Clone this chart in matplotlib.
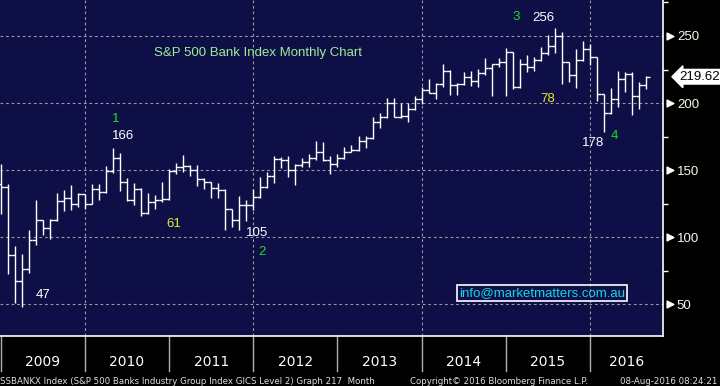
import matplotlib
matplotlib.use('Agg')
import matplotlib.pyplot as plt
import matplotlib.transforms as mtransforms

# monthly OHLC, S&P 500 Bank Index, Dec 2008 .. Aug 2016 (bars drawn at month end)
opens = [140.0, 137.5, 87.1, 67.7, 76.1, 97.8, 112.7, 107.2, 112.7, 127.1, 128.9, 124.4,
         131.9, 125.1, 136.1, 133.6, 149.0, 158.7, 141.3, 128.0, 136.3, 118.2, 125.9, 128.0,
         128.6, 149.5, 152.0, 153.0, 150.0, 143.3, 140.8, 137.0, 135.0, 120.9, 113.2, 123.9,
         123.9, 130.1, 137.5, 146.0, 158.0, 157.5, 150.0, 154.0, 156.2, 158.7, 163.7, 157.5,
         154.5, 158.7, 163.7, 164.9, 171.9, 173.7, 185.6, 189.3, 199.8, 189.8, 190.3, 195.3,
         202.8, 209.7, 207.7, 214.2, 224.1, 213.4, 214.2, 219.6, 216.7, 222.6, 225.9, 228.8,
         230.8, 237.8, 211.8, 229.1, 226.9, 231.9, 237.1, 242.5, 250.0, 230.4, 220.9, 232.1,
         240.0, 234.1, 206.5, 192.3, 202.8, 217.7, 221.4, 205.2, 213.4]
highs = [154.5, 139.6, 93.3, 87.8, 105.7, 127.6, 112.9, 113.7, 132.6, 135.1, 138.8, 132.6,
         132.5, 139.6, 139.6, 153.0, 166.4, 162.9, 143.8, 140.5, 137.0, 133.1, 131.3, 141.3,
         150.5, 155.0, 161.2, 153.5, 153.7, 143.8, 141.3, 140.5, 136.3, 121.4, 130.6, 127.6,
         136.3, 144.6, 148.8, 160.4, 159.9, 160.4, 154.5, 158.7, 161.9, 171.6, 171.1, 160.7,
         161.9, 166.9, 168.7, 175.4, 175.4, 189.3, 192.3, 203.5, 203.5, 200.2, 200.2, 205.2,
         211.7, 217.7, 214.7, 228.9, 224.6, 214.7, 223.4, 224.1, 225.1, 233.4, 229.3, 233.4,
         241.0, 238.0, 232.6, 235.8, 234.0, 242.0, 250.7, 256.2, 253.0, 230.8, 240.0, 246.3,
         243.8, 234.6, 206.9, 211.0, 223.9, 222.9, 222.9, 215.9, 219.9]
lows = [117.2, 72.9, 51.0, 48.0, 73.4, 94.3, 101.7, 98.8, 112.0, 119.2, 120.1, 122.6,
        121.4, 124.5, 127.6, 132.8, 148.0, 134.6, 127.0, 123.9, 116.2, 117.5, 121.4, 126.4,
        128.0, 147.5, 148.8, 145.5, 138.0, 136.3, 128.9, 129.6, 105.7, 107.7, 105.5, 112.2,
        120.6, 129.5, 137.0, 140.5, 151.3, 145.0, 139.3, 152.0, 152.5, 157.8, 157.0, 147.5,
        152.5, 158.0, 163.2, 164.5, 166.6, 173.0, 181.6, 189.0, 189.3, 188.6, 186.0, 195.0,
        199.3, 207.2, 202.8, 211.7, 206.0, 206.0, 213.5, 212.7, 211.7, 221.0, 205.2, 227.1,
        205.0, 210.2, 211.0, 223.0, 224.0, 231.0, 236.0, 237.0, 214.0, 215.9, 211.4, 231.5,
        228.4, 201.5, 178.6, 192.0, 197.2, 208.0, 191.0, 195.3, 210.4]
closes = [137.5, 87.1, 67.7, 76.1, 97.8, 112.7, 107.2, 112.7, 127.1, 128.9, 124.4, 131.9,
          125.1, 136.1, 133.6, 149.0, 158.7, 141.3, 128.0, 136.3, 118.2, 125.9, 128.0, 128.6,
          149.5, 152.0, 153.0, 150.0, 143.3, 140.8, 137.0, 135.0, 120.9, 113.2, 123.9, 123.9,
          130.1, 137.5, 146.0, 158.0, 157.5, 150.0, 154.0, 156.2, 158.7, 163.7, 157.5, 154.5,
          158.7, 163.7, 164.9, 171.9, 173.7, 185.6, 189.3, 199.8, 189.8, 190.3, 195.3, 202.8,
          209.7, 207.7, 214.2, 224.1, 213.4, 214.2, 219.6, 216.7, 222.6, 225.9, 228.8, 230.8,
          237.8, 211.8, 229.1, 226.9, 231.9, 237.1, 242.5, 250.0, 230.8, 220.9, 232.1, 240.0,
          234.1, 206.5, 192.3, 202.8, 217.7, 221.4, 205.2, 213.4, 219.62]

years = ['2009', '2010', '2011', '2012', '2013', '2014', '2015', '2016']
y_ticks = [50, 100, 150, 200, 250]
y_minor = [75, 125, 175, 225, 275]
last_price = 219.62

# (text, month index, value, colour)
notes = [('1', 16.4, 188.0, '#22dd22'), ('166', 17.4, 175.5, 'white'),
         ('61', 24.7, 110.0, '#e8e830'), ('47', 6.0, 57.0, 'white'),
         ('105', 36.5, 103.0, 'white'), ('2', 37.3, 89.0, '#22dd22'),
         ('3', 73.4, 264.0, '#22dd22'), ('256', 77.4, 263.5, 'white'),
         ('78', 78.0, 203.0, '#e8e830'), ('178', 84.5, 170.0, 'white'),
         ('4', 87.4, 175.5, '#22dd22')]

W, H = 720, 386
fig = plt.figure(figsize=(W / 100, H / 100), dpi=100, facecolor='black')
ax = fig.add_axes([0, 50 / H, 663 / W, 336 / H])
ax.set_facecolor('#0f0f47')

n = len(closes)
idx = list(range(n))
lw = 1.0
ax.vlines(idx, lows, highs, color='white', lw=lw)
ax.hlines(opens, [i - 0.5 for i in idx], idx, color='white', lw=lw)
ax.hlines(closes, idx, [i + 0.5 for i in idx], color='white', lw=lw)

ax.set_xlim(-0.1, 94.4)
ax.set_ylim(26.4, 276.8)

# grid
for v in y_ticks:
    ax.axhline(v, color='#9a9a9a', lw=0.8, ls=(0, (2.5, 2.5)), zorder=0)
for k in [12, 36, 60, 84]:
    ax.axvline(k, color='#9a9a9a', lw=0.8, ls=(0, (2.5, 2.5)), zorder=0)

for s in ['top', 'left']:
    ax.spines[s].set_visible(False)
ax.spines['right'].set_color('white')
ax.spines['bottom'].set_color('white')
ax.spines['right'].set_linewidth(1.2)
ax.spines['bottom'].set_linewidth(1.2)

ax.set_xticks([])
ax.yaxis.tick_right()
ax.set_yticks(y_ticks)
ax.set_yticklabels([str(v) for v in y_ticks])
ax.set_yticks(y_minor, minor=True)
ax.tick_params(axis='y', which='major', length=0, pad=10, labelsize=9.5,
               labelcolor='#fff4e6')
ax.tick_params(axis='y', which='minor', length=3.5, width=1, color='white')
for lab in ax.get_yticklabels():
    lab.set_family('Liberation Sans')

# pennant markers on major ticks
tr = mtransforms.blended_transform_factory(ax.transAxes, ax.transData)
ax.scatter([1.01] * len(y_ticks), y_ticks, marker='>', s=24, color='white',
           transform=tr, clip_on=False, zorder=5)

# last price tag
ax.text(1.025, last_price, '%.2f' % last_price, transform=tr, ha='left', va='center',
        fontsize=9.5, family='Liberation Sans', color='black',
        bbox=dict(boxstyle='larrow,pad=0.1', fc='white', ec='white'))

# title and notes
ax.text(21.9, 237.3, 'S&P 500 Bank Index Monthly Chart', color='#98f098',
        fontsize=9.5, family='Liberation Sans', ha='left', va='center')
for t, k, v, c in notes:
    ax.text(k, v, t, color=c, fontsize=9.5, family='Liberation Sans',
            ha='center', va='center')

ax.text(77.1, 58.4, 'info@marketmatters.com.au', color='#10d8e8', fontsize=9.5,
        family='Liberation Sans', ha='center', va='center',
        bbox=dict(boxstyle='square,pad=0.15', fc='none', ec='white', lw=1.2))

# year labels and separators in the black band
trx = mtransforms.blended_transform_factory(ax.transData, ax.transAxes)
for i, y in enumerate(years):
    left = 12 * i
    right = min(12 * (i + 1), 94.4)
    ax.text((left + right) / 2, -0.078, y, transform=trx, ha='center', va='center',
            color='white', fontsize=10, family='DejaVu Sans')
    ax.plot([left, left], [0, -0.105], transform=trx, color='#b0b0b0', lw=1,
            clip_on=False)

fig.text(0.0, 5 / H, 'SSBANKX Index (S&P 500 Banks Industry Group Index GICS Level 2) Graph 217  Month',
         color='#e0e0e0', fontsize=6.2, family='DejaVu Sans', ha='left', va='center')
fig.text(410 / W, 5 / H, 'Copyright\u00a9 2016 Bloomberg Finance L.P.',
         color='#e0e0e0', fontsize=6.2, family='DejaVu Sans', ha='left', va='center')
fig.text(717 / W, 5 / H, '08-Aug-2016 08:24:21',
         color='#e0e0e0', fontsize=6.2, family='DejaVu Sans', ha='right', va='center')

fig.savefig('out.png', dpi=100, facecolor='black')
